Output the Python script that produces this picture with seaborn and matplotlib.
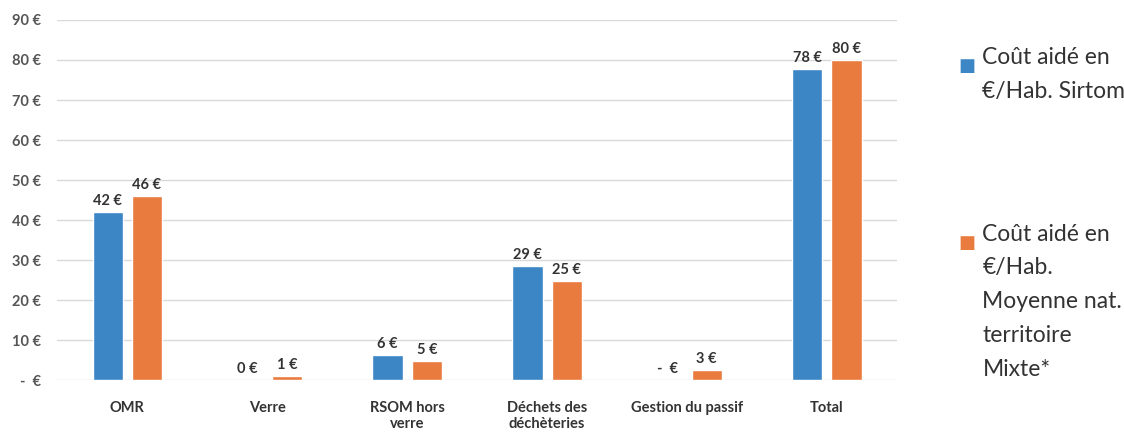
import matplotlib
matplotlib.use("Agg")
import matplotlib.pyplot as plt
import seaborn as sns
import pandas as pd

categories = ["OMR", "Verre", "RSOM hors\nverre", "Déchets des\ndéchèteries", "Gestion du passif", "Total"]
sirtom = [42.0, 0.1, 6.3, 28.6, 0.0, 77.8]
moyenne = [46.0, 1.0, 4.8, 24.8, 2.6, 80.0]
series = ["Coût aidé en\n€/Hab. Sirtom", "Coût aidé en\n€/Hab.\nMoyenne nat.\nterritoire\nMixte*"]
colors = ["#3C86C6", "#E97B3F"]
yticks = [0, 10, 20, 30, 40, 50, 60, 70, 80, 90]

df = pd.DataFrame({
    "cat": categories * 2,
    "val": sirtom + moyenne,
    "serie": [series[0]] * len(categories) + [series[1]] * len(categories),
})

sns.set_theme(style="white")
plt.rcParams["font.family"] = ["Lato", "DejaVu Sans"]
plt.rcParams["font.weight"] = "bold"

fig = plt.figure(figsize=(11.24, 4.34), dpi=100)
ax = fig.add_axes([0.051, 0.124, 0.747, 0.83])

sns.barplot(data=df, x="cat", y="val", hue="serie", palette=colors,
            width=0.56, gap=0.23, saturation=1, ax=ax, legend=False)

def euro(v):
    r = round(v)
    return "-  €" if v == 0 else f"{r} €"

for cont in ax.containers:
    ax.bar_label(cont, labels=[euro(b.get_height()) for b in cont],
                 padding=3, fontsize=10.5, fontweight="bold", color="#333333")

ax.set_ylim(0, 90)
ax.set_xlim(-0.5, 5.5)
ax.set_yticks(yticks)
ax.set_yticklabels([euro(v) for v in yticks], fontsize=10.5, fontweight="bold", color="#555555")
ax.tick_params(axis="x", labelsize=10.5, colors="#333333", length=0, pad=15)
ax.tick_params(axis="y", length=0, pad=12)
plt.setp(ax.get_xticklabels(), fontweight="bold")
ax.set_xlabel("")
ax.set_ylabel("")
ax.yaxis.grid(True, color="#d9d9d9", linewidth=1)
ax.set_axisbelow(True)
for s in ax.spines.values():
    s.set_visible(False)

# legend on the right
for lab, col, y in zip(series, colors, [0.872, 0.465]):
    fig.text(0.853, y - 0.004, "■", color=col, fontsize=13, va="top", ha="left")
    fig.text(0.874, y + 0.02, lab, color="#333333", fontsize=16.5, va="top",
             ha="left", linespacing=1.75, fontweight="normal")

fig.savefig("out.png", dpi=100)
